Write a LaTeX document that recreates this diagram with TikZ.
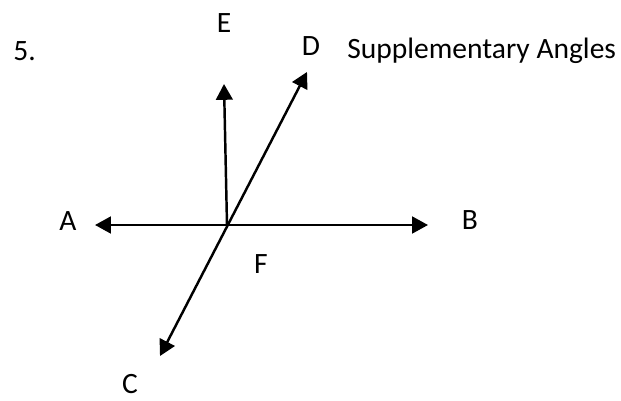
\documentclass[tikz,border=0pt]{standalone}
\usepackage{fontspec}
\setmainfont{Carlito}
\usepackage{tikz}
\usetikzlibrary{arrows.meta,positioning}

\begin{document}
\begin{tikzpicture}[x=0.02cm,y=0.02cm,
  every node/.style={font=\fontsize{16.8}{20}\selectfont, inner sep=0pt},
  ray/.style={line width=1.4pt, -{Triangle[length=9pt,width=9.5pt]}},
  lbl/.style={anchor=base}]
\useasboundingbox (0,0) rectangle (621,400);

% Vertex and arrow tips
\coordinate (f) at (227,175);
\coordinate (tipA) at (95,175);
\coordinate (tipB) at (428,175);
\coordinate (tipE) at (224,316);
\coordinate (tipD) at (307,328);
\coordinate (tipC) at (160,44);

% Lines and rays
\draw[ray, {Triangle[length=9pt,width=9.5pt]}-{Triangle[length=9pt,width=9.5pt]}] (tipA) -- (tipB);
\draw[ray, {Triangle[length=9pt,width=9.5pt]}-{Triangle[length=9pt,width=9.5pt]}] (tipC) -- (tipD);
\draw[ray] (f) -- (tipE);

% Point labels
\foreach \nm/\x/\y in {A/68/170, B/470/171, C/130/7, D/311/345, E/224/368, F/261/127}{
  \node[lbl] (lbl\nm) at (\x,\y) {\nm};
}

% Heading
\node[anchor=base west] (num) at (13,340) {5.};
\node[anchor=base west] (title) at (347,342) {Supplementary Angles};
\end{tikzpicture}
\end{document}
